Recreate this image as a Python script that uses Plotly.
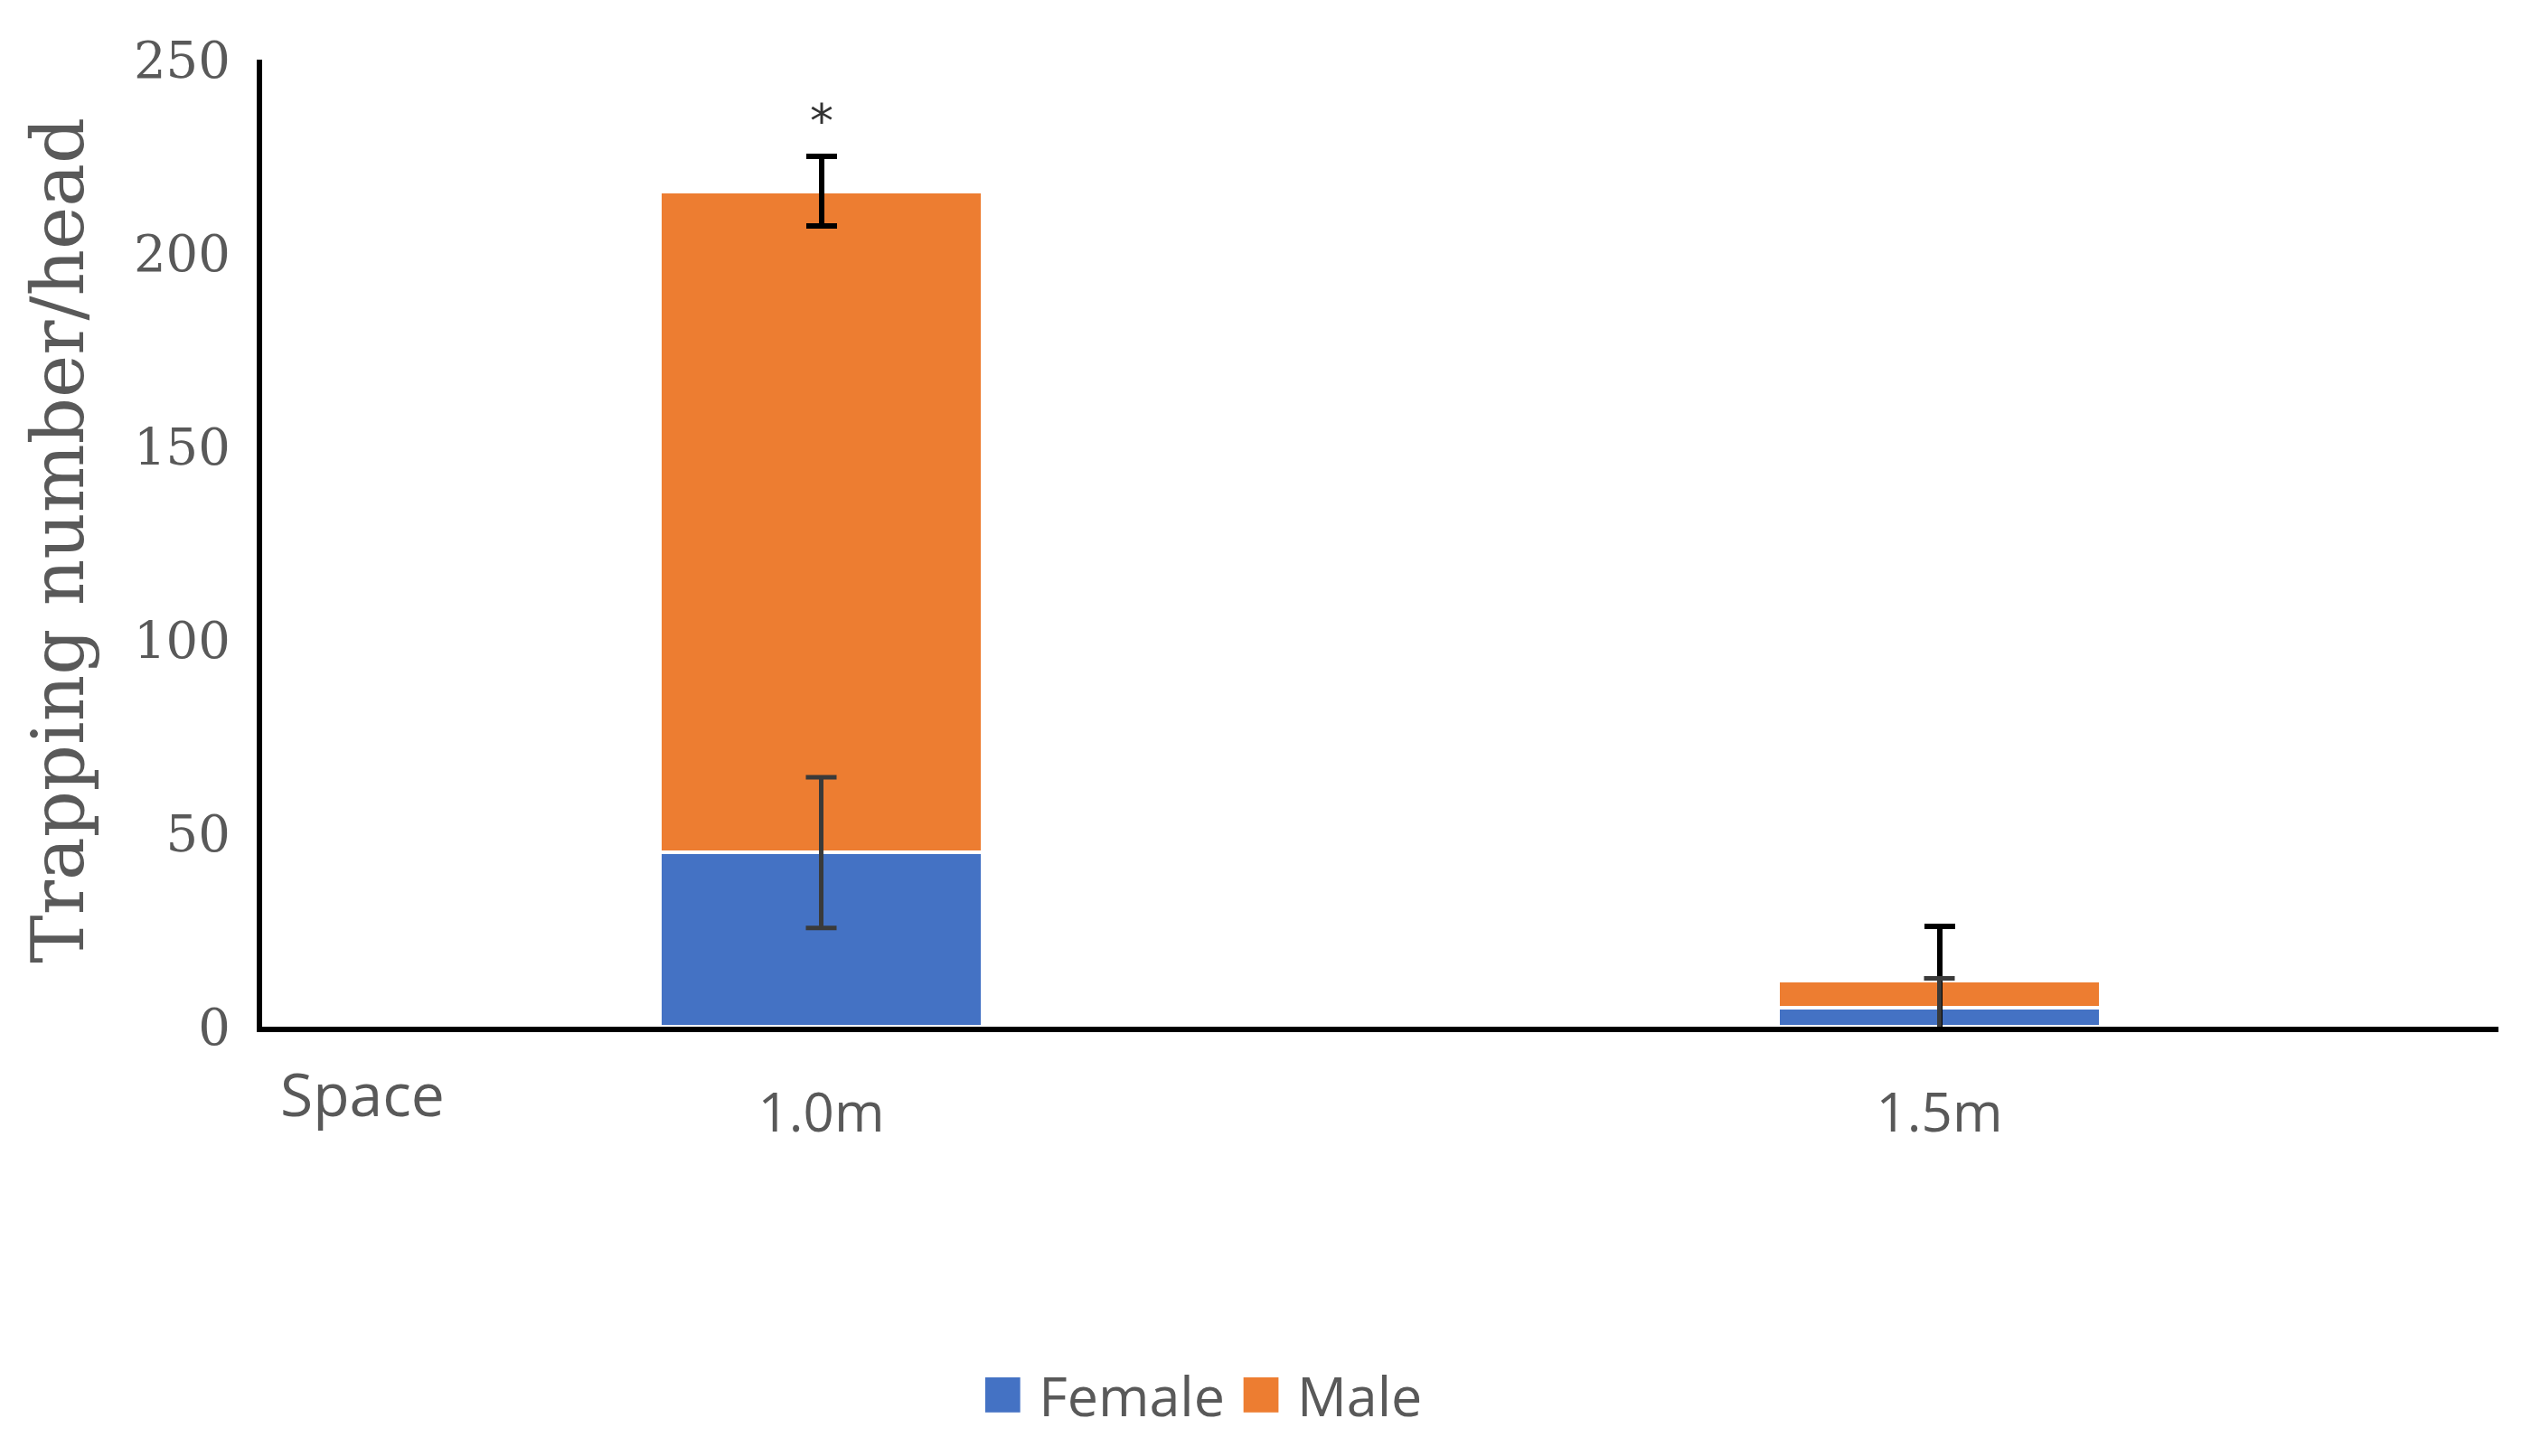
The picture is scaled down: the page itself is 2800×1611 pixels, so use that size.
import plotly.graph_objects as go

categories = ["1.0m", "1.5m"]
female = [45, 5]
male = [171, 7]
female_err = [19.5, 7.5]
male_err = [9, 14]
y_ticks = [0, 50, 100, 150, 200, 250]

BLUE = "#4472C4"
ORANGE = "#ED7D31"
GRAY = "#595959"

fig = go.Figure()
fig.add_trace(go.Bar(
    x=categories, y=female, name="Female",
    marker=dict(color=BLUE, line=dict(color="white", width=4)),
))
fig.add_trace(go.Bar(
    x=categories, y=male, name="Male",
    marker=dict(color=ORANGE, line=dict(color="white", width=4)),
    error_y=dict(type="data", array=male_err, color="#000000", thickness=6, width=17),
))
# female error bars drawn on top so they stay visible over the male segment
fig.add_trace(go.Scatter(
    x=categories, y=female, mode="markers", marker=dict(size=1, opacity=0),
    error_y=dict(type="data", array=female_err, color="#3a3a3a", thickness=5, width=17),
    hoverinfo="skip", showlegend=False,
))

fig.update_layout(
    width=2800, height=1611,
    barmode="stack", bargap=0.712,
    paper_bgcolor="white", plot_bgcolor="white",
    margin=dict(l=290, r=36, t=66, b=475),
    showlegend=False,
    font=dict(family="Open Sans", color=GRAY),
)
fig.update_xaxes(
    showline=True, linecolor="black", linewidth=6,
    showgrid=False, ticks="",
    tickfont=dict(family="Open Sans", size=60, color=GRAY),
    ticklabelstandoff=38,
)
fig.update_yaxes(
    range=[0, 250], tickvals=y_ticks,
    showline=True, linecolor="black", linewidth=6,
    showgrid=False, zeroline=False, ticks="",
    tickfont=dict(family="DejaVu Serif", size=56, color=GRAY),
    ticklabelstandoff=18,
)

# y axis title
fig.add_annotation(
    text="Trapping number/head", textangle=-90,
    xref="paper", yref="paper", x=-0.091, y=0.503,
    xanchor="center", yanchor="middle", showarrow=False,
    font=dict(family="DejaVu Serif", size=80, color=GRAY),
)
# "Space" label
fig.add_annotation(
    text="Space", xref="paper", yref="paper", x=0.045, y=-0.068,
    xanchor="center", yanchor="middle", showarrow=False,
    font=dict(family="Open Sans", size=66, color=GRAY),
)
# significance asterisk
fig.add_annotation(
    text="*", x=categories[0], y=234, xref="x", yref="y",
    showarrow=False, font=dict(family="DejaVu Sans", size=52, color="#333333"),
)
# legend
fig.add_annotation(
    text=(f"<span style='color:{BLUE};font-size:80px'>■</span> Female "
          f"<span style='color:{ORANGE};font-size:80px'>■</span> Male"),
    xref="paper", yref="paper", x=0.42, y=-0.373,
    xanchor="center", yanchor="middle", showarrow=False,
    font=dict(family="Open Sans", size=61, color=GRAY),
)

fig.write_html("out.html")
